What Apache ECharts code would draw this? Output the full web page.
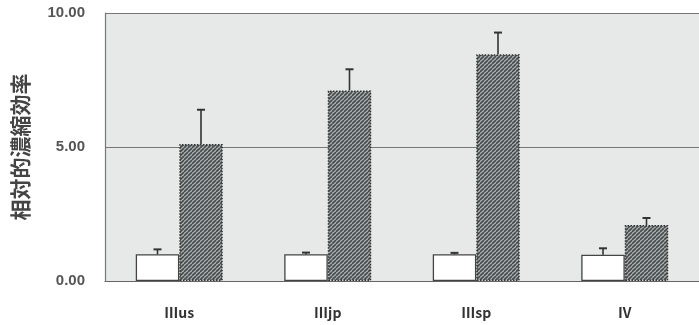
<!DOCTYPE html>
<html><head><meta charset="utf-8">
<script src="https://cdn.jsdelivr.net/npm/echarts@6/dist/echarts.min.js"></script>
<style>html,body{margin:0;padding:0;background:#fff}#c{width:699px;height:325px}</style>
</head><body><div id="c"></div>
<script>
const categories = ['Ⅲus', 'Ⅲjp', 'Ⅲsp', 'Ⅳ'];
const controlValues = [1.0, 1.0, 1.0, 0.98];
const controlErrors = [1.18, 1.06, 1.05, 1.22];
const treatedValues = [5.11, 7.11, 8.46, 2.09];
const treatedErrors = [6.39, 7.90, 9.27, 2.35];
const yTicks = [0, 5, 10];

const BW = 43.5;
const pc = document.createElement('canvas');
pc.width = 4; pc.height = 4;
const g = pc.getContext('2d');
g.fillStyle = '#aeb2b2'; g.fillRect(0,0,4,4);
g.strokeStyle = '#454a4c'; g.lineWidth = 1.6;
for (let k = -4; k <= 8; k += 4) { g.beginPath(); g.moveTo(k, 4); g.lineTo(k + 4, 0); g.stroke(); }

function errSeries(vals, errs, dir) {
  return {
    type: 'custom', z: 5,
    data: vals.map((v, i) => [i, v, errs[i]]),
    renderItem: function (params, api) {
      const base = api.coord([api.value(0), api.value(1)]);
      const top = api.coord([api.value(0), api.value(2)]);
      const x = base[0] + dir * BW / 2;
      return { type: 'group', children: [
        { type: 'line', shape: { x1: x, y1: base[1], x2: x, y2: top[1] }, style: { stroke: '#333', lineWidth: 1.6 } },
        { type: 'line', shape: { x1: x - 4, y1: top[1], x2: x + 4, y2: top[1] }, style: { stroke: '#333', lineWidth: 2 } }
      ]};
    }
  };
}

const chart = echarts.init(document.getElementById('c'));
chart.setOption({
  animation: false,
  grid: { left: 105, right: -1, top: 13, bottom: 44, show: true, backgroundColor: '#e7e8e8', borderWidth: 0 },
  xAxis: {
    type: 'category', data: categories,
    axisLine: { lineStyle: { color: '#666', width: 1.2 } },
    axisTick: { inside: true, length: 5, lineStyle: { color: '#888' } },
    axisLabel: { margin: 25, color: '#333', fontSize: 14, fontWeight: 'bold', fontFamily: '"Noto Sans CJK JP", serif' }
  },
  yAxis: {
    type: 'value', min: yTicks[0], max: yTicks[yTicks.length - 1], interval: 5,
    name: '相対的濃縮効率', nameLocation: 'middle', nameGap: 74, nameRotate: 90,
    nameTextStyle: { fontSize: 21, fontWeight: 'bold', color: '#444', fontFamily: '"Noto Sans CJK JP"' },
    axisLine: { show: true, lineStyle: { color: '#777', width: 1.2 } },
    axisTick: { show: false },
    axisLabel: { margin: 20, color: '#555', fontSize: 15, fontWeight: 'bold', fontFamily: 'Arial, "Liberation Sans"', formatter: v => v.toFixed(2) },
    splitLine: { lineStyle: { color: '#777', width: 1.2 } }
  },
  series: [
    { type: 'bar', data: controlValues, barWidth: BW, barGap: '0%',
      itemStyle: { color: '#ffffff', borderColor: '#444', borderWidth: 1.3 } },
    { type: 'bar', data: treatedValues, barWidth: BW,
      itemStyle: { color: { image: pc, repeat: 'repeat' }, borderColor: '#333', borderWidth: 1.5, borderType: 'dotted' } },
    errSeries(controlValues, controlErrors, -1),
    errSeries(treatedValues, treatedErrors, 1)
  ]
});
</script></body></html>
